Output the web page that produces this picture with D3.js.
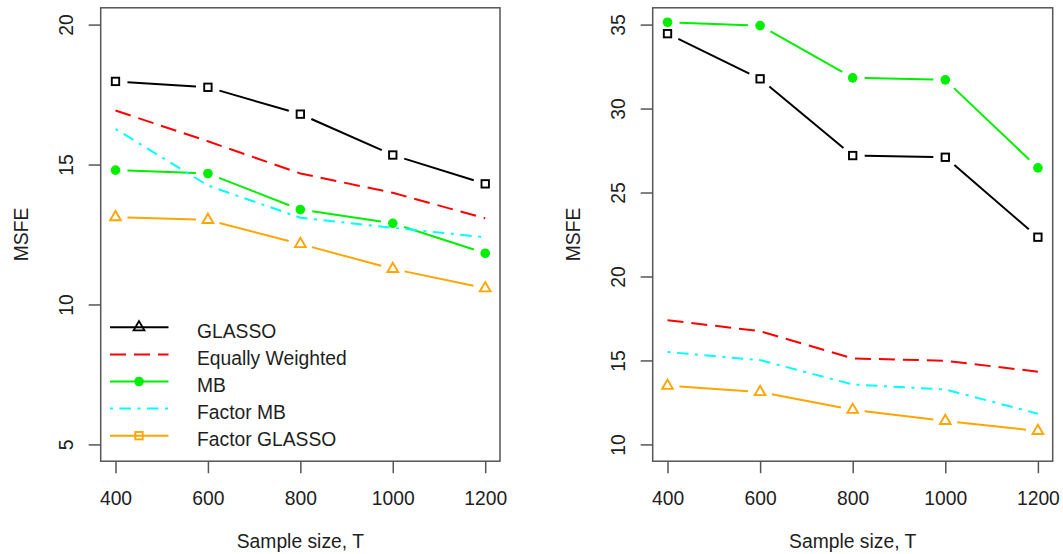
<!DOCTYPE html>
<html>
<head>
<meta charset="utf-8">
<script src="https://cdn.jsdelivr.net/npm/d3@7"></script>
<style>
  html, body { margin: 0; padding: 0; background: #fff; }
  svg { display: block; font-family: "Liberation Sans", Arial, sans-serif; }
</style>
</head>
<body>
<svg id="chart" width="1063" height="554"></svg>
<script>
// Sample sizes on the horizontal axis
const sampleSizes = [400, 600, 800, 1000, 1200];
const xTickValues = [400, 600, 800, 1000, 1200];

// Panel 1 – MSFE by estimator
const glasso1   = [17.97, 17.76, 16.80, 15.34, 14.31];
const equalW1   = [16.93, 15.83, 14.68, 13.99, 13.08];
const mb1       = [14.80, 14.68, 13.39, 12.90, 11.83];
const factorMB1 = [16.27, 14.25, 13.10, 12.74, 12.40];
const factorGL1 = [13.12, 13.02, 12.16, 11.27, 10.58];
const yTicks1   = [5, 10, 15, 20];

// Panel 2 – MSFE by estimator
const glasso2   = [34.46, 31.77, 27.20, 27.10, 22.34];
const equalW2   = [17.40, 16.74, 15.12, 14.98, 14.33];
const mb2       = [35.14, 34.94, 31.83, 31.71, 26.47];
const factorMB2 = [15.50, 15.02, 13.57, 13.27, 11.83];
const factorGL2 = [13.49, 13.12, 12.06, 11.40, 10.80];
const yTicks2   = [10, 15, 20, 25, 30, 35];

const legendLabels = ["GLASSO", "Equally Weighted", "MB", "Factor MB", "Factor GLASSO"];

// Drawing styles for each estimator
const styles = {
  glasso:   { color: "#000000", dash: null,           marker: "square",   points: true },
  equalW:   { color: "#FF0000", dash: "16,8",         marker: null,       points: false },
  mb:       { color: "#00EE00", dash: null,           marker: "circle",   points: true },
  factorMB: { color: "#00FFFF", dash: "3,6.5,11.5,6.5", marker: null,     points: false },
  factorGL: { color: "#FFA500", dash: null,           marker: "triangle", points: true }
};
const legendKeys = ["glasso", "equalW", "mb", "factorMB", "factorGL"];
const legendMarkers = ["triangle", null, "circle", null, "square"];

const FONT = 19.3;
const TEXT = "#1e1e1e";
const FRAME = "#555555";
const GAP = 12;

const svg = d3.select("#chart");

function drawMarker(g, type, cx, cy, color) {
  if (type === "square") {
    g.append("rect")
      .attr("x", cx - 3.7).attr("y", cy - 3.7)
      .attr("width", 7.4).attr("height", 7.4)
      .attr("fill", "none").attr("stroke", color).attr("stroke-width", 1.9);
  } else if (type === "circle") {
    g.append("circle")
      .attr("cx", cx).attr("cy", cy).attr("r", 4.8)
      .attr("fill", color);
  } else if (type === "triangle") {
    const r = 6.2;
    const pts = [[cx, cy - r], [cx + 0.866 * r, cy + r / 2], [cx - 0.866 * r, cy + r / 2]];
    g.append("path")
      .attr("d", "M" + pts.map(p => p.join(",")).join("L") + "Z")
      .attr("fill", "none").attr("stroke", color).attr("stroke-width", 1.9)
      .attr("stroke-linejoin", "miter");
  }
}

function drawPanel(cfg) {
  const { x0, x1, y0, y1, yDomain, yTicks, series, legend } = cfg;
  const g = svg.append("g");

  const x = d3.scaleLinear().domain([368, 1232]).range([x0, x1]);
  const y = d3.scaleLinear().domain(yDomain).range([y1, y0]);

  // Series
  series.forEach(s => {
    const st = styles[s.key];
    const pts = sampleSizes.map((t, i) => [x(t), y(s.values[i])]);
    const line = d3.line();
    if (!st.points) {
      g.append("path")
        .attr("d", line(pts))
        .attr("fill", "none")
        .attr("stroke", st.color)
        .attr("stroke-width", 2)
        .attr("stroke-dasharray", st.dash)
        .attr("stroke-linejoin", "round");
    } else {
      // lines broken around each point
      for (let i = 0; i < pts.length - 1; i++) {
        const [ax, ay] = pts[i], [bx, by] = pts[i + 1];
        const len = Math.hypot(bx - ax, by - ay);
        const ux = (bx - ax) / len, uy = (by - ay) / len;
        g.append("path")
          .attr("d", line([[ax + ux * GAP, ay + uy * GAP], [bx - ux * GAP, by - uy * GAP]]))
          .attr("fill", "none")
          .attr("stroke", st.color)
          .attr("stroke-width", 2);
      }
      pts.forEach(p => drawMarker(g, st.marker, p[0], p[1], st.color));
    }
  });

  // Frame
  g.append("rect")
    .attr("x", x0).attr("y", y0)
    .attr("width", x1 - x0).attr("height", y1 - y0)
    .attr("fill", "none").attr("stroke", FRAME).attr("stroke-width", 1.5);

  // Bottom axis
  const xa = g.append("g")
    .attr("transform", `translate(0,${y1})`)
    .call(d3.axisBottom(x).tickValues(xTickValues).tickSize(12).tickSizeOuter(0).tickFormat(d3.format("d")));
  xa.select(".domain").remove();
  xa.selectAll(".tick line").attr("stroke", FRAME).attr("stroke-width", 1.5);
  xa.selectAll(".tick text")
    .attr("y", 44).attr("dy", null)
    .attr("fill", TEXT)
    .style("font-size", FONT + "px")
    .style("font-family", '"Liberation Sans", Arial, sans-serif');

  // Left axis with rotated labels
  const ya = g.append("g")
    .attr("transform", `translate(${x0},0)`)
    .call(d3.axisLeft(y).tickValues(yTicks).tickSize(12).tickSizeOuter(0).tickFormat(d3.format("d")));
  ya.select(".domain").remove();
  ya.selectAll(".tick line").attr("stroke", FRAME).attr("stroke-width", 1.5);
  ya.selectAll(".tick text")
    .attr("x", null).attr("y", null).attr("dy", null)
    .attr("text-anchor", "middle")
    .attr("transform", "translate(-27.8,0) rotate(-90)")
    .attr("fill", TEXT)
    .style("font-size", FONT + "px")
    .style("font-family", '"Liberation Sans", Arial, sans-serif');

  // Axis titles
  g.append("text")
    .attr("x", (x0 + x1) / 2).attr("y", 548)
    .attr("text-anchor", "middle")
    .attr("fill", TEXT).style("font-size", FONT + "px")
    .text("Sample size, T");
  g.append("text")
    .attr("transform", `translate(${x0 - 73.2},${(y0 + y1) / 2}) rotate(-90)`)
    .attr("text-anchor", "middle")
    .attr("fill", TEXT).style("font-size", FONT + "px")
    .text("MSFE");

  // Legend
  if (legend) {
    const lg = g.append("g");
    legendKeys.forEach((k, i) => {
      const st = styles[k];
      const ly = 327.3 + i * 27.1;
      lg.append("path")
        .attr("d", d3.line()([[110, ly], [168.5, ly]]))
        .attr("stroke", st.color).attr("stroke-width", 2)
        .attr("stroke-dasharray", st.dash).attr("fill", "none");
      if (legendMarkers[i]) drawMarker(lg, legendMarkers[i], 139, ly, st.color);
      lg.append("text")
        .attr("x", 197).attr("y", 337.5 + i * 27.1)
        .attr("fill", TEXT).style("font-size", FONT + "px")
        .text(legendLabels[i]);
    });
  }
}

drawPanel({
  x0: 100.7, x1: 500, y0: 7.8, y1: 461.2,
  yDomain: [4.4, 20.6], yTicks: yTicks1, legend: true,
  series: [
    { key: "glasso", values: glasso1 },
    { key: "equalW", values: equalW1 },
    { key: "mb", values: mb1 },
    { key: "factorMB", values: factorMB1 },
    { key: "factorGL", values: factorGL1 }
  ]
});

drawPanel({
  x0: 652.7, x1: 1052.7, y0: 7.8, y1: 461.2,
  yDomain: [9, 36], yTicks: yTicks2, legend: false,
  series: [
    { key: "glasso", values: glasso2 },
    { key: "equalW", values: equalW2 },
    { key: "mb", values: mb2 },
    { key: "factorMB", values: factorMB2 },
    { key: "factorGL", values: factorGL2 }
  ]
});
</script>
</body>
</html>
